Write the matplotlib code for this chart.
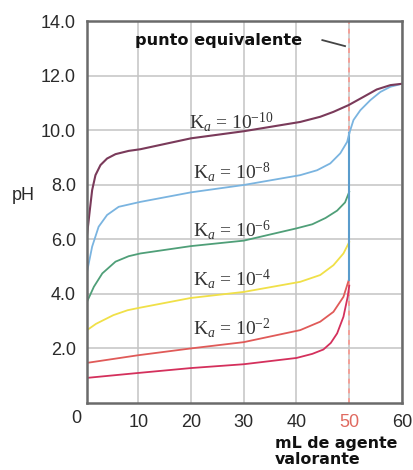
import matplotlib
matplotlib.use("Agg")
import matplotlib.pyplot as plt

# titration curves (mL titrant, pH)
ka10_x = [0.3, 0.76, 1.27, 1.9, 2.85, 4.1, 5.7, 8.2, 10.4, 20, 30, 40.7, 44.5, 47,
          49.9, 52.7, 55.2, 57.8, 60]
ka10_y = [6.15, 6.95, 7.8, 8.35, 8.72, 8.96, 9.12, 9.24, 9.3, 9.7, 9.96, 10.3, 10.49, 10.67,
          10.92, 11.22, 11.49, 11.65, 11.7]

ka8_x = [0.3, 1.27, 2.5, 4.1, 6.3, 10.4, 20, 30, 40.7, 43.9, 46.4, 48.3, 49.6, 50]
ka8_y = [4.8, 5.73, 6.46, 6.89, 7.19, 7.37, 7.72, 7.99, 8.35, 8.53, 8.78, 9.15, 9.57, 9.88]

ka6_x = [0.3, 1.6, 3.2, 5.7, 8.2, 10.4, 20, 30, 40, 43, 45.5, 47.7, 49.2, 50]
ka6_y = [3.71, 4.26, 4.75, 5.18, 5.38, 5.48, 5.75, 5.95, 6.4, 6.55, 6.78, 7.05, 7.35, 7.74]

ka4_x = [0.3, 2, 5.3, 8, 10, 20, 30, 40.7, 44.5, 47, 48.9, 50]
ka4_y = [2.67, 2.9, 3.22, 3.4, 3.48, 3.85, 4.07, 4.44, 4.69, 5.05, 5.48, 5.9]

ka2_x = [0.3, 10, 20, 30, 40.7, 44.5, 47, 48.9, 49.9]
ka2_y = [1.47, 1.75, 2.0, 2.23, 2.67, 2.98, 3.34, 3.89, 4.5]

strong_x = [0.3, 10, 20, 30, 40, 43, 45.1, 46.5, 47.7, 48.9, 49.7, 50]
strong_y = [0.92, 1.1, 1.28, 1.42, 1.65, 1.8, 1.96, 2.2, 2.55, 3.16, 3.89, 4.3]

# jump at the equivalence point and the common excess-base branch
jump_x = [50, 50]
jump_y = [4.5, 9.88]
post_x = [50, 50.8, 52.1, 54, 55.9, 57.8, 60]
post_y = [9.88, 10.37, 10.73, 11.1, 11.4, 11.59, 11.7]

ka_labels = [r"K$_{\mathit{a}}$ = 10$^{-10}$", r"K$_{\mathit{a}}$ = 10$^{-8}$",
             r"K$_{\mathit{a}}$ = 10$^{-6}$", r"K$_{\mathit{a}}$ = 10$^{-4}$",
             r"K$_{\mathit{a}}$ = 10$^{-2}$"]
label_x = [27.7, 27.8, 27.8, 27.8, 27.8]
label_y = [10.3, 8.46, 6.34, 4.54, 2.75]

x_ticks = [10, 20, 30, 40, 50, 60]
y_ticks = [2, 4, 6, 8, 10, 12, 14]

plt.rcParams["mathtext.fontset"] = "custom"
plt.rcParams["mathtext.rm"] = "Liberation Serif"
plt.rcParams["mathtext.it"] = "Liberation Serif:italic"

fig = plt.figure(figsize=(4.13, 4.70), dpi=100)
ax = fig.add_axes([0.2107, 0.1426, 0.7627, 0.8127])

ax.set_xlim(0.3, 60)
ax.set_ylim(0, 14)
ax.set_xticks(x_ticks)
ax.set_yticks(y_ticks)
ax.set_yticklabels(["%.1f" % v for v in y_ticks])
ax.grid(True, color="#c4c4c4", linewidth=1.1)
ax.set_axisbelow(True)
ax.tick_params(length=0, labelsize=13, labelcolor="#2a2a2a", pad=8)
for lab in ax.get_xticklabels() + ax.get_yticklabels():
    lab.set_family("Liberation Sans")
ax.get_xticklabels()[4].set_color("#e06a60")
for sp in ax.spines.values():
    sp.set_color("#6a6a6a")
    sp.set_linewidth(1.8)

# equivalence point marker
ax.axvline(50, color="#f4a098", linestyle=(0, (2.5, 2.5)), linewidth=1.4, zorder=1)

ax.plot(strong_x, strong_y, color="#d4305c", linewidth=1.3)
ax.plot(ka2_x, ka2_y, color="#e05a58", linewidth=1.3)
ax.plot(ka4_x, ka4_y, color="#f0e048", linewidth=1.3)
ax.plot(ka6_x, ka6_y, color="#4f9f78", linewidth=1.3)
ax.plot(jump_x, jump_y, color="#5a9ccc", linewidth=1.5)
ax.plot(ka8_x, ka8_y, color="#7ab4e0", linewidth=1.3)
ax.plot(post_x, post_y, color="#7ab4e0", linewidth=1.3)
ax.plot(ka10_x, ka10_y, color="#7a3a5a", linewidth=1.5)

for txt, lx, ly in zip(ka_labels, label_x, label_y):
    ax.text(lx, ly, txt, ha="center", va="center", fontsize=14,
            family="Liberation Serif", color="#333333")

ax.text(-1.8, -0.58, "0", ha="center", va="center", fontsize=13,
        family="Liberation Sans", color="#2a2a2a", clip_on=False)
ax.text(-11.8, 7.6, "pH", ha="center", va="center", fontsize=13,
        family="Liberation Sans", color="#2a2a2a", clip_on=False)

ax.text(25.3, 13.3, "punto equivalente", ha="center", va="center",
        fontsize=11.6, fontweight="bold", family="DejaVu Sans", color="#111111")
ax.plot([44.9, 49.2], [13.3, 13.08], color="#444444", linewidth=1.3)

fig.text(0.666, 0.04, "mL de agente\nvalorante", ha="left", va="center",
         fontsize=11.4, fontweight="bold", family="DejaVu Sans", color="#111111",
         linespacing=1.1)

fig.savefig("out.png", dpi=100)
